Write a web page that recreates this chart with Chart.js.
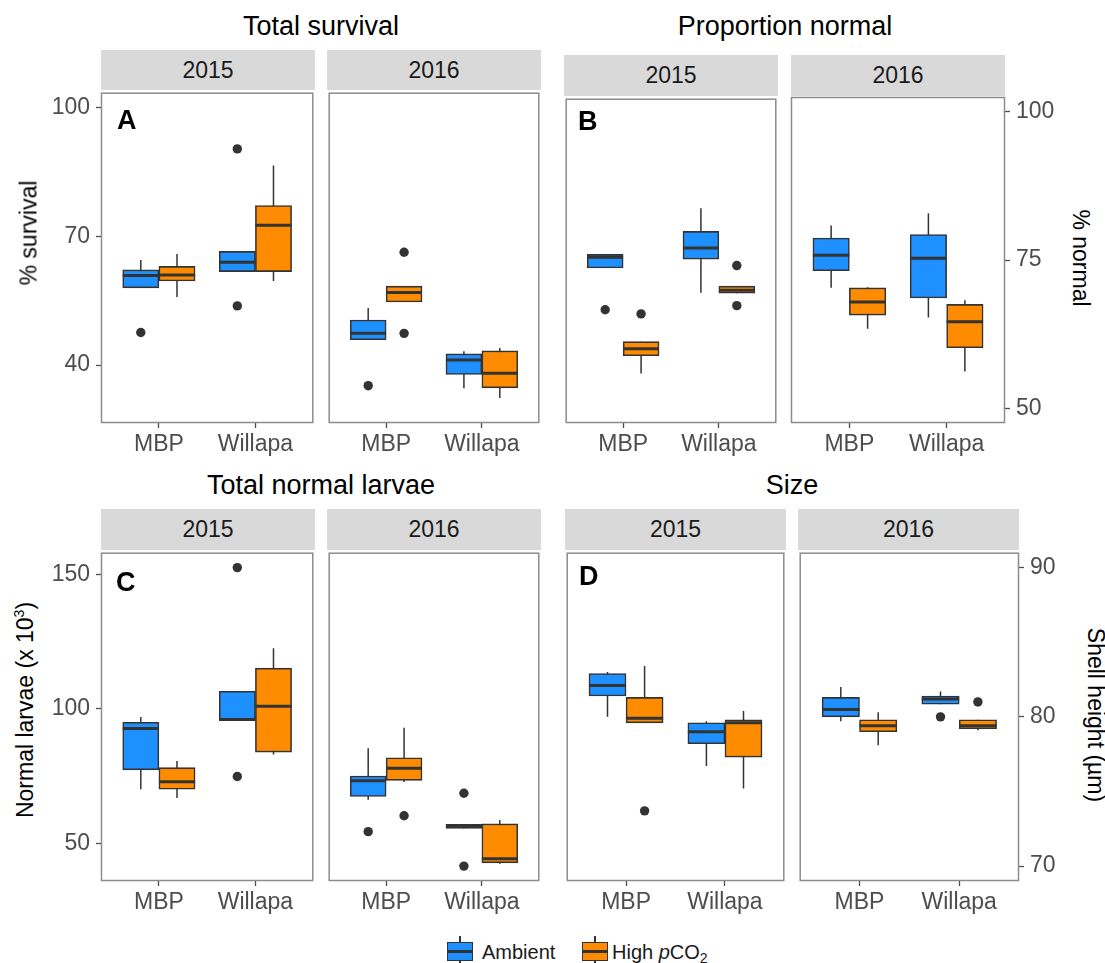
<!DOCTYPE html>
<html>
<head>
<meta charset="utf-8">
<script src="https://cdn.jsdelivr.net/npm/chart.js@4.4.1/dist/chart.umd.min.js"></script>
<style>
  html, body { margin: 0; padding: 0; background: #fff; }
  body { position: relative; width: 1105px; height: 963px; overflow: hidden;
         font-family: "Liberation Sans", Arial, sans-serif; }
  canvas { position: absolute; }
  .title { position: absolute; font-size: 27px; line-height: 1; color: #000; white-space: nowrap; transform: translateX(-50%); }
  .strip { position: absolute; background: #d9d9d9; color: #1a1a1a; font-size: 23px; line-height: 1;
           display: flex; align-items: center; justify-content: center; }
  .letter { position: absolute; font-size: 27px; font-weight: bold; line-height: 1; color: #000; }
  .axtitle { position: absolute; font-size: 23px; line-height: 1; color: #000; white-space: nowrap; }
  .legtext { position: absolute; font-size: 20px; line-height: 1; color: #1a1a1a; white-space: nowrap; }
  .key { position: absolute; box-sizing: border-box; border: 1.5px solid #333; }
  .keyline { position: absolute; background: #333; }
</style>
</head>
<body>
<div id="root"></div>
<script>
// ---- categories ----
const sites = ['MBP', 'Willapa'];
const years = ['2015', '2016'];
const treatments = ['Ambient', 'High pCO2'];
const fillColors = ['#1e90ff', '#ff8c00'];

// ---- box summaries: [lower whisker, Q1, median, Q3, upper whisker] ----
// row order in every array: MBP-Ambient, MBP-High, Willapa-Ambient, Willapa-High

// % survival
const survival2015 = [
  [58.0, 58.0, 60.9, 62.2, 64.5],
  [55.9, 59.6, 61.0, 63.0, 65.9],
  [61.8, 61.8, 64.0, 66.5, 66.5],
  [59.6, 61.8, 72.6, 77.2, 86.5]
];
const survival2016 = [
  [45.9, 45.9, 47.4, 50.5, 53.3],
  [54.7, 54.7, 56.9, 58.4, 58.4],
  [34.6, 37.8, 41.2, 42.6, 43.2],
  [32.3, 34.7, 38.1, 43.3, 44.0]
];
const survivalOutliers2015 = [[47.6], [], [90.4, 53.8], []];
const survivalOutliers2016 = [[35.2], [66.3, 47.4], [], []];
const survivalLimits = [26.5, 103.5];
const survivalTicks = [40, 70, 100];

// % normal
const normal2015 = [
  [73.8, 73.8, 75.6, 76.1, 76.1],
  [55.9, 58.9, 60.1, 61.3, 61.3],
  [69.6, 75.3, 77.2, 80.0, 83.9],
  [69.5, 69.5, 70.0, 70.7, 70.7]
];
const normal2016 = [
  [70.3, 73.2, 75.8, 78.7, 80.8],
  [63.4, 65.7, 67.9, 70.3, 70.4],
  [65.3, 68.6, 75.3, 79.3, 82.9],
  [56.2, 60.2, 64.6, 67.5, 68.2]
];
const normalOutliers2015 = [[66.7], [66.0], [], [74.2, 67.4]];
const normalOutliers2016 = [[], [], [], []];
const normalLimits = [47.5, 102.5];
const normalTicks = [50, 75, 100];

// normal larvae (x 10^3)
const larvae2015 = [
  [70.1, 77.3, 92.7, 95.0, 96.9],
  [66.8, 70.1, 72.9, 78.1, 80.6],
  [95.6, 95.6, 96.0, 106.5, 106.5],
  [83.0, 83.9, 100.9, 115.1, 122.5]
];
const larvae2016 = [
  [66.2, 67.4, 73.2, 75.0, 85.3],
  [72.8, 73.4, 77.9, 81.8, 92.9],
  [55.5, 55.5, 56.3, 57.0, 57.0],
  [42.4, 42.7, 44.2, 57.2, 58.6]
];
const larvaeOutliers2015 = [[], [], [152.5, 74.8], []];
const larvaeOutliers2016 = [[54.3], [60.2], [68.6, 41.5], []];
const larvaeLimits = [35.95, 158.05];
const larvaeTicks = [50, 100, 150];

// shell height (µm)
const size2015 = [
  [80.0, 81.4, 82.1, 82.9, 83.0],
  [79.6, 79.6, 79.9, 81.3, 83.4],
  [76.7, 78.2, 79.0, 79.6, 79.7],
  [75.2, 77.3, 79.6, 79.8, 80.4]
];
const size2016 = [
  [79.7, 80.0, 80.5, 81.3, 82.0],
  [78.1, 79.0, 79.4, 79.8, 80.3],
  [80.85, 80.85, 81.2, 81.4, 81.7],
  [79.1, 79.2, 79.4, 79.8, 79.8]
];
const sizeOutliers2015 = [[], [73.7], [], []];
const sizeOutliers2016 = [[], [], [80.0], [81.0]];
const sizeLimits = [69, 91];
const sizeTicks = [70, 80, 90];

// ---- layout ----
const FONT = '"Liberation Sans", Arial, sans-serif';
const YW = 62;   // width reserved for a y axis
const XH = 42;   // height reserved for the x axis
const PAD = 3;
const HALF = 0.1875;  // half of a dodged box width in x units

const root = document.getElementById('root');

function addDiv(cls, html, style) {
  const d = document.createElement('div');
  d.className = cls;
  d.innerHTML = html;
  Object.assign(d.style, style);
  root.appendChild(d);
  return d;
}

// box centre for row i (site index * 2 + treatment index)
function boxX(i) {
  const site = Math.floor(i / 2) + 1;
  return site + (i % 2 === 0 ? -HALF : HALF);
}

const panelFrame = {
  id: 'panelFrame',
  afterDraw(chart) {
    const a = chart.chartArea, c = chart.ctx;
    c.save();
    c.strokeStyle = '#8c8c8c';
    c.lineWidth = 1.5;
    c.strokeRect(a.left + 0.5, a.top + 0.5, a.right - a.left - 1, a.bottom - a.top - 1);
    c.restore();
  }
};

function makeFacet(rect, stats, outliers, limits, ticks, side) {
  const [left, top, w, h] = rect;
  const padL = side === 'left' ? YW : PAD;
  const padR = side === 'right' ? YW : PAD;
  const cv = document.createElement('canvas');
  const cw = w + padL + padR, ch = h + PAD + XH;
  cv.width = cw; cv.height = ch;
  cv.style.left = (left - padL) + 'px';
  cv.style.top = (top - PAD) + 'px';
  cv.style.width = cw + 'px';
  cv.style.height = ch + 'px';
  root.appendChild(cv);

  const whiskerData = [], medianData = [], outlierData = [], boxData = [];
  stats.forEach((s, i) => {
    const x = boxX(i);
    whiskerData.push({ x, y: s[0] }, { x, y: s[4] }, { x, y: null });
    medianData.push({ x: x - HALF, y: s[2] }, { x: x + HALF, y: s[2] }, { x, y: null });
    boxData.push({ x, y: [s[1], s[3]] });
    outliers[i].forEach(v => outlierData.push({ x, y: v }));
  });

  const tickFont = { family: FONT, size: 23 };
  const gridOpts = { display: true, offset: false, drawOnChartArea: false, drawTicks: true, tickLength: 5,
                     tickColor: '#4d4d4d', tickWidth: 1.3 };

  new Chart(cv, {
    type: 'bar',
    data: {
      datasets: [
        { type: 'line', data: whiskerData, borderColor: '#333', borderWidth: 1.5,
          pointRadius: 0, spanGaps: false, order: 3 },
        { type: 'bar', data: boxData, backgroundColor: stats.map((_, i) => fillColors[i % 2]),
          borderColor: '#333', borderWidth: 1.6, borderSkipped: false,
          categoryPercentage: 1, barPercentage: 1, order: 2 },
        { type: 'line', data: medianData, borderColor: '#333', borderWidth: 3,
          pointRadius: 0, spanGaps: false, order: 1 },
        { type: 'line', data: outlierData, showLine: false, pointRadius: 4.7, pointHoverRadius: 4.7,
          pointBackgroundColor: '#333', pointBorderWidth: 0, order: 0 }
      ]
    },
    options: {
      responsive: false,
      animation: false,
      events: [],
      devicePixelRatio: 1,
      layout: { padding: { left: side === 'left' ? 0 : PAD, right: side === 'right' ? 0 : PAD, top: PAD, bottom: 0 } },
      plugins: { legend: { display: false }, tooltip: { enabled: false } },
      scales: {
        x: {
          type: 'linear', min: 0.4, max: 2.6, offset: false,
          afterBuildTicks: s => { s.ticks = sites.map((_, k) => ({ value: k + 1 })); },
          ticks: { callback: v => sites[v - 1], color: '#4d4d4d', font: tickFont, padding: 3,
                   maxRotation: 0, autoSkip: false },
          grid: gridOpts,
          border: { display: false },
          afterFit: s => { s.height = XH; s.paddingLeft = 0; s.paddingRight = 0; }
        },
        y: {
          type: 'linear', position: side || 'left', display: !!side, offset: false,
          min: limits[0], max: limits[1],
          afterBuildTicks: s => { s.ticks = ticks.map(v => ({ value: v })); },
          ticks: { color: '#4d4d4d', font: tickFont, padding: 6 },
          grid: gridOpts,
          border: { display: false },
          afterFit: s => { s.width = side ? YW : 0; s.paddingTop = 0; s.paddingBottom = 0; }
        }
      }
    },
    plugins: [panelFrame]
  });
}

function makeStrip(rect, text) {
  const [left, top, w, h] = rect;
  addDiv('strip', text, { left: left + 'px', top: top + 'px', width: w + 'px', height: h + 'px' });
}

// ---- panels ----
const panels = [
  { title: 'Total survival', titleX: 321, titleTop: 13, letter: 'A', letterPos: [117, 107],
    facets: [
      { rect: [101, 91, 214, 332], strip: [101, 50, 214, 40], stats: survival2015, out: survivalOutliers2015, side: 'left' },
      { rect: [327, 91, 214, 332], strip: [327, 50, 214, 40], stats: survival2016, out: survivalOutliers2016, side: null }
    ], limits: survivalLimits, ticks: survivalTicks },
  { title: 'Proportion normal', titleX: 785, titleTop: 13, letter: 'B', letterPos: [578, 108],
    facets: [
      { rect: [564, 97, 214, 326], strip: [564, 55, 214, 41], stats: normal2015, out: normalOutliers2015, side: null },
      { rect: [791, 97, 214, 326], strip: [791, 55, 214, 41], stats: normal2016, out: normalOutliers2016, side: 'right' }
    ], limits: normalLimits, ticks: normalTicks },
  { title: 'Total normal larvae', titleX: 321, titleTop: 472, letter: 'C', letterPos: [116, 569],
    facets: [
      { rect: [101, 551, 214, 330], strip: [101, 509, 214, 41], stats: larvae2015, out: larvaeOutliers2015, side: 'left' },
      { rect: [327, 551, 214, 330], strip: [327, 509, 214, 41], stats: larvae2016, out: larvaeOutliers2016, side: null }
    ], limits: larvaeLimits, ticks: larvaeTicks },
  { title: 'Size', titleX: 792, titleTop: 472, letter: 'D', letterPos: [579, 563],
    facets: [
      { rect: [565, 551, 221, 330], strip: [565, 509, 221, 41], stats: size2015, out: sizeOutliers2015, side: null },
      { rect: [798, 551, 221, 330], strip: [798, 509, 221, 41], stats: size2016, out: sizeOutliers2016, side: 'right' }
    ], limits: sizeLimits, ticks: sizeTicks }
];

panels.forEach(p => {
  addDiv('title', p.title, { left: p.titleX + 'px', top: p.titleTop + 'px' });
  p.facets.forEach((f, k) => {
    makeStrip(f.strip, years[k]);
    makeFacet(f.rect, f.stats, f.out, p.limits, p.ticks, f.side);
  });
  addDiv('letter', p.letter, { left: p.letterPos[0] + 'px', top: p.letterPos[1] + 'px' });
});

// ---- axis titles ----
function axisTitle(html, cx, cy, angle) {
  const d = addDiv('axtitle', html, { left: cx + 'px', top: cy + 'px' });
  d.style.transform = 'translate(-50%, -50%) rotate(' + angle + 'deg)';
}
axisTitle('% survival', 29, 233, -90);
axisTitle('Normal larvae (x 10<sup style="font-size:14px;vertical-align:9px;line-height:0">3</sup>)', 25, 710, -90);
axisTitle('% normal', 1080, 258, 90);
axisTitle('Shell height (µm)', 1095, 715, 90);

// ---- legend ----
const legendKeys = [
  { x: 447, textX: 482, label: 'Ambient' },
  { x: 582, textX: 612, label: 'High <i>p</i>CO<sub style="font-size:14px;vertical-align:-4px;line-height:0">2</sub>' }
];
treatments.forEach((t, k) => {
  const L = legendKeys[k];
  addDiv('keyline', '', { left: (L.x + 12) + 'px', top: '936px', width: '1.5px', height: '28px' });
  addDiv('key', '', { left: L.x + 'px', top: '942px', width: '26px', height: '19px', background: fillColors[k] });
  addDiv('keyline', '', { left: L.x + 'px', top: '950px', width: '26px', height: '2.5px' });
  addDiv('legtext', L.label, { left: L.textX + 'px', top: '942px' });
});
</script>
</body>
</html>
